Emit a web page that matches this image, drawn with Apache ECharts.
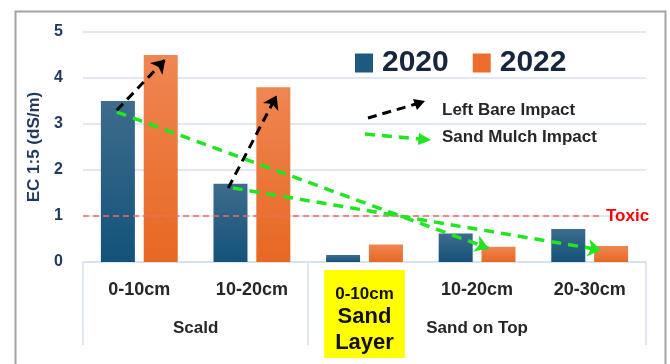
<!DOCTYPE html>
<html>
<head>
<meta charset="utf-8">
<script src="https://cdn.jsdelivr.net/npm/echarts@6/dist/echarts.min.js"></script>
<style>
    html, body { margin: 0; padding: 0; background: #fff; }
    #chart { width: 670px; height: 364px; }
</style>
</head>
<body>
<div id="chart"></div>
<script>
// data
var depths = ['0-10cm', '10-20cm', '0-10cm', '10-20cm', '20-30cm']
var groups = ['Scald', 'Sand on Top']
var groupSpan = [2, 3]          // how many depths in each group
var ec2020 = [3.5, 1.7, 0.15, 0.62, 0.72]
var ec2022 = [4.5, 3.8, 0.38, 0.33, 0.35]
var toxicLevel = 1
var sandLayerIndex = 2          // the highlighted (yellow) category

// arrow ends, in [category position, EC] (category i centre = i + 0.5)
var leftBareArrows = [
    [[0.30, 3.30], [0.73, 4.40]],
    [[1.29, 1.61], [1.72, 3.62]]
]
var sandMulchArrows = [
    [[0.30, 3.26], [3.60, 0.30]],
    [[1.33, 1.61], [4.60, 0.26]]
]

var FONT = 'Liberation Sans'
var gridBlue = '#d5e1ef'

// group centres on the 0..n value axis
var groupCentre = {}
var start = 0
for (let g = 0; g < groups.length; g++) {
    groupCentre[(start + groupSpan[g] / 2).toFixed(1)] = groups[g]
    start += groupSpan[g]
}

var axisData = depths.map(function (d, i) {
    if (i === sandLayerIndex) {
        return { value: d, textStyle: { backgroundColor: '#ffff00', padding: [14, 11, 2, 11] } }
    }
    return d
})

var myChart = echarts.init(document.getElementById('chart'))

var option = {
    animation: false,
    textStyle: { fontFamily: FONT },
    grid: { left: 83, right: 24, top: 32, bottom: 102, containLabel: false },
    legend: {
        data: [
            { name: '2020', itemStyle: { color: '#1e5a80' } },
            { name: '2022', itemStyle: { color: '#ec6e2c' } }
        ],
        left: 350, top: 43,
        icon: 'rect',
        itemWidth: 18, itemHeight: 19, itemGap: 24,
        textStyle: { fontSize: 30, fontWeight: 'bold', color: '#17263f', fontFamily: FONT, padding: [0, 0, 0, 4] }
    },
    xAxis: [{
        type: 'category',
        data: axisData,
        position: 'bottom',
        axisLine: { show: true, lineStyle: { color: gridBlue, width: 1.5 } },
        axisTick: {
            show: true, length: 83, alignWithLabel: false,
            interval: function (i) { return i === 0 || i === sandLayerIndex },
            lineStyle: { color: gridBlue, width: 1.5 }
        },
        axisLabel: {
            interval: 0, margin: 8, color: '#262626',
            formatter: function (v, i) {
                if (i === sandLayerIndex) return '{a|' + v + '}\n{b|Sand}\n{b|Layer}'
                return '{n|' + v + '}'
            },
            rich: {
                n: { fontSize: 18, fontWeight: 'bold', lineHeight: 40, color: '#262626', fontFamily: FONT },
                a: { fontSize: 17, fontWeight: 'bold', lineHeight: 20, color: '#111', fontFamily: FONT },
                b: { fontSize: 22, fontWeight: 'bold', lineHeight: 26, color: '#111', fontFamily: FONT }
            }
        },
        splitLine: { show: false }
    }, {
        type: 'value',
        min: 0, max: depths.length, interval: 0.5,
        position: 'bottom',
        axisLine: { show: false }, axisTick: { show: false }, splitLine: { show: false },
        axisLabel: {
            margin: 58, fontSize: 17, fontWeight: 'bold', color: '#262626', showMinLabel: true, showMaxLabel: true,
            formatter: function (v) { return groupCentre[v.toFixed(1)] || '' }
        }
    }],
    yAxis: {
        type: 'value', min: 0, max: 5, interval: 1,
        name: 'EC 1:5 (dS/m)', nameLocation: 'middle', nameGap: 38,
        nameTextStyle: { fontSize: 17, fontWeight: 'bold', color: '#1f3a5c', fontFamily: FONT },
        axisLine: { show: false }, axisTick: { show: false },
        axisLabel: { fontSize: 16, fontWeight: 'bold', color: '#1f3a5c', margin: 20 },
        splitLine: { lineStyle: { color: gridBlue, width: 1.5 } }
    },
    series: [{
        name: '2020', type: 'bar', data: ec2020,
        barWidth: 34, barGap: '26%',
        itemStyle: {
            color: new echarts.graphic.LinearGradient(0, 0, 0, 1, [
                { offset: 0, color: '#3e6c8c' }, { offset: 1, color: '#13527a' }
            ])
        }
    }, {
        name: '2022', type: 'bar', data: ec2022,
        barWidth: 34,
        itemStyle: {
            color: new echarts.graphic.LinearGradient(0, 0, 0, 1, [
                { offset: 0, color: '#ef8652' }, { offset: 1, color: '#e76822' }
            ])
        }
    }, {
        name: 'toxic', type: 'lines', coordinateSystem: 'cartesian2d', xAxisIndex: 1, yAxisIndex: 0,
        z: 3, symbol: ['none', 'none'], clip: false,
        lineStyle: { color: '#f46a6a', width: 1.5, type: [6, 4], opacity: 1 },
        label: {
            show: true, position: 'end', distance: 5, formatter: 'Toxic',
            color: '#ff0000', fontSize: 17, fontWeight: 'bold', fontFamily: FONT
        },
        data: [{ coords: [[0, toxicLevel], [4.6, toxicLevel]] }]
    }, {
        name: 'left bare', type: 'lines', coordinateSystem: 'cartesian2d', xAxisIndex: 1, yAxisIndex: 0,
        z: 5, symbol: ['none', 'arrow'], symbolSize: 13, clip: false,
        lineStyle: { color: '#000', width: 3, type: [9, 6], opacity: 1 },
        data: leftBareArrows.map(function (c) { return { coords: c } })
    }, {
        name: 'sand mulch', type: 'lines', coordinateSystem: 'cartesian2d', xAxisIndex: 1, yAxisIndex: 0,
        z: 4, symbol: ['none', 'arrow'], symbolSize: 13, clip: false,
        lineStyle: { color: '#1fe61f', width: 3.5, type: [10, 7], opacity: 1 },
        data: sandMulchArrows.map(function (c) { return { coords: c } })
    }],
    graphic: [
        // outer frame
        { type: 'rect', left: 13, top: 9, shape: { width: 650, height: 400 }, style: { fill: 'none', stroke: '#a3a3a3', lineWidth: 2 }, silent: true },
        // arrow legend
        { type: 'line', shape: { x1: 368, y1: 118, x2: 416, y2: 104 }, style: { stroke: '#000', lineWidth: 3, lineDash: [9, 6] } },
        { type: 'polygon', shape: { points: [[425, 101], [413, 99], [417, 110]] }, style: { fill: '#000' } },
        { type: 'line', shape: { x1: 365, y1: 134, x2: 420, y2: 139 }, style: { stroke: '#1fe61f', lineWidth: 3.5, lineDash: [10, 7] } },
        { type: 'polygon', shape: { points: [[431, 140], [419, 133], [418, 145]] }, style: { fill: '#1fe61f' } },
        { type: 'text', left: 442, top: 102, style: { text: 'Left Bare Impact', fill: '#262626', font: 'bold 17px "Liberation Sans"' } },
        { type: 'text', left: 442, top: 129, style: { text: 'Sand Mulch Impact', fill: '#262626', font: 'bold 17px "Liberation Sans"' } }
    ]
}

myChart.setOption(option)
window.addEventListener('resize', function () {
    myChart.resize()
})
</script>
</body>
</html>
